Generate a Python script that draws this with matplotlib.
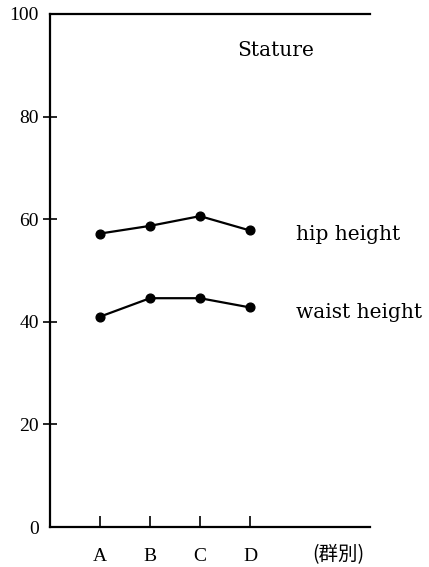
import matplotlib
matplotlib.use("Agg")
import matplotlib.pyplot as plt

groups = ["A", "B", "C", "D"]
hip = [57.2, 58.7, 60.6, 57.8]
waist = [41.0, 44.6, 44.6, 42.8]
yticks = [0, 20, 40, 60, 80, 100]

plt.rcParams['font.family'] = ['Liberation Serif', 'DejaVu Serif']

fig = plt.figure(figsize=(4.29, 5.67), dpi=100)
ax = fig.add_axes([50/429, 40/567, 320/429, 513/567])

x = [1, 2, 3, 4]
ax.plot(x, hip, color='black', lw=1.6, marker='o', ms=6.3)
ax.plot(x, waist, color='black', lw=1.6, marker='o', ms=6.3)

ax.set_xlim(0, 6.4)
ax.set_ylim(0, 100)
ax.set_xticks(x)
ax.set_xticklabels(groups, fontsize=14)
ax.set_yticks(yticks)
ax.set_yticklabels([str(v) for v in yticks], fontsize=14)

ax.spines['right'].set_visible(False)
for s in ['left', 'top', 'bottom']:
    ax.spines[s].set_linewidth(1.6)

ax.tick_params(axis='x', direction='in', length=8, width=1.2, pad=15)
ax.tick_params(axis='y', direction='inout', length=10, width=1.2, pad=3)
yt = ax.yaxis.get_major_ticks()
yt[0].tick1line.set_visible(False)
yt[-1].tick1line.set_visible(False)

lab = dict(fontsize=14.5, family='DejaVu Serif', va='baseline', ha='left')
ax.text(3.74, 91.8, "Stature", **lab)
ax.text(4.92, 55.9, "hip height", **lab)
ax.text(4.93, 40.7, "waist height", **lab)

ax.text(5.76, -5.46, "(群別)", ha='center', va='center', fontsize=14,
        family=['Noto Sans CJK JP', 'DejaVu Sans'], clip_on=False)

fig.savefig("out.png", dpi=100)
